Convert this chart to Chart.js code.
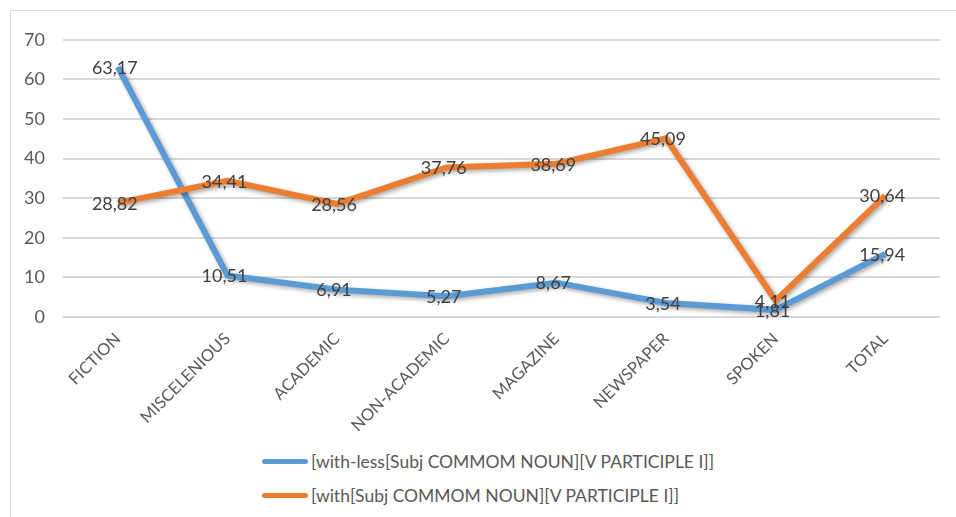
<!DOCTYPE html>
<html>
<head>
<meta charset="utf-8">
<script src="https://cdn.jsdelivr.net/npm/chart.js@4.4.1/dist/chart.umd.min.js"></script>
<style>
  html, body { margin: 0; padding: 0; background: #fff; overflow: hidden; }
  body { width: 956px; height: 517px; position: relative; font-family: Lato, "Open Sans", sans-serif; }
  #frame {
    position: absolute; left: 10px; top: 10px; width: 960px; height: 520px;
    border: 1px solid #d9d9d9; box-sizing: border-box;
  }
  #wrap { position: absolute; left: 11px; top: 11px; width: 945px; height: 430px; }
  #legend { position: absolute; left: 262px; top: 444px; }
  .item { display: flex; align-items: center; height: 34px; font-size: 17.5px; color: #595959; }
  .swatch { width: 46px; height: 5px; border-radius: 3px; margin-right: 3px; }
</style>
</head>
<body>
<div id="frame"></div>
<div id="wrap"><canvas id="chart"></canvas></div>
<div id="legend"></div>
<script>
// Chart data
const categories = ['FICTION', 'MISCELENIOUS', 'ACADEMIC', 'NON-ACADEMIC', 'MAGAZINE', 'NEWSPAPER', 'SPOKEN', 'TOTAL'];
const withLess = [63.17, 10.51, 6.91, 5.27, 8.67, 3.54, 1.81, 15.94];
const withSubj = [28.82, 34.41, 28.56, 37.76, 38.69, 45.09, 4.11, 30.64];
const seriesNames = [
    '[with-less[Subj COMMOM NOUN][V PARTICIPLE I]]',
    '[with[Subj COMMOM NOUN][V PARTICIPLE I]]'
];
const seriesColors = ['#5b9bd5', '#ed7d31'];
const yTicks = [0, 10, 20, 30, 40, 50, 60, 70];

// soft shadow under the lines, like the office chart
const lineShadow = {
    id: 'lineShadow',
    beforeDatasetDraw(chart) {
        const ctx = chart.ctx;
        ctx.save();
        ctx.shadowColor = 'rgba(0,0,0,0.35)';
        ctx.shadowBlur = 4;
        ctx.shadowOffsetX = 2;
        ctx.shadowOffsetY = 2;
    },
    afterDatasetDraw(chart) {
        chart.ctx.restore();
    }
};

// value labels centred on each point, comma decimals
const valueLabels = {
    id: 'valueLabels',
    afterDatasetsDraw(chart) {
        const ctx = chart.ctx;
        ctx.save();
        ctx.font = '18px Lato';
        ctx.fillStyle = '#404040';
        ctx.textAlign = 'center';
        ctx.textBaseline = 'middle';
        chart.data.datasets.forEach((ds, i) => {
            chart.getDatasetMeta(i).data.forEach((pt, j) => {
                const txt = ds.data[j].toFixed(2).replace('.', ',');
                ctx.fillText(txt, pt.x - 3, pt.y + 1);
            });
        });
        ctx.restore();
    }
};

new Chart(document.getElementById('chart'), {
    type: 'line',
    data: {
        labels: categories,
        datasets: [
            {
                label: seriesNames[0],
                data: withLess,
                borderColor: seriesColors[0],
                backgroundColor: seriesColors[0],
                borderWidth: 6,
                pointRadius: 0,
                tension: 0,
                order: 1
            },
            {
                label: seriesNames[1],
                data: withSubj,
                borderColor: seriesColors[1],
                backgroundColor: seriesColors[1],
                borderWidth: 6,
                pointRadius: 0,
                tension: 0,
                order: 0
            }
        ]
    },
    options: {
        responsive: true,
        maintainAspectRatio: false,
        animation: false,
        layout: { padding: { top: 22, right: 16, left: 0, bottom: 0 } },
        plugins: {
            legend: { display: false },
            tooltip: { enabled: false }
        },
        scales: {
            x: {
                offset: true,
                grid: { display: false },
                border: { display: false },
                ticks: {
                    color: '#595959',
                    font: { family: 'Lato', size: 16.5 },
                    minRotation: 45,
                    maxRotation: 45,
                    padding: 4
                },
                afterFit(scale) { scale.height = 124; }
            },
            y: {
                min: 0,
                max: 70,
                afterBuildTicks(scale) { scale.ticks = yTicks.map(v => ({ value: v })); },
                grid: { color: '#d9d9d9', lineWidth: 2, drawTicks: false },
                border: { display: false },
                ticks: {
                    color: '#595959',
                    font: { family: 'Lato', size: 18 },
                    padding: 18
                },
                afterFit(scale) { scale.width = 52; }
            }
        }
    },
    plugins: [lineShadow, valueLabels]
});

// Legend
const legendEl = document.getElementById('legend');
seriesNames.forEach((name, i) => {
    const row = document.createElement('div');
    row.className = 'item';
    row.innerHTML = `<span class="swatch" style="background:${seriesColors[i]}"></span><span></span>`;
    row.lastChild.textContent = name;
    legendEl.appendChild(row);
});
</script>
</body>
</html>
